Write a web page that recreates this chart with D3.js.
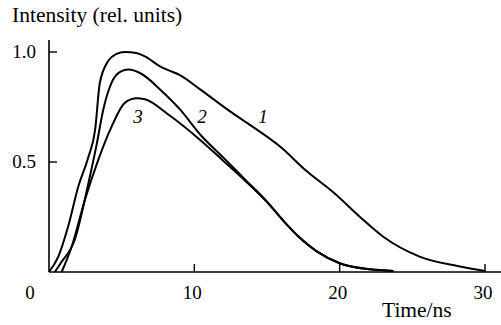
<!DOCTYPE html>
<html>
<head>
<meta charset="utf-8">
<script src="https://cdn.jsdelivr.net/npm/d3@7"></script>
<style>
	body { margin: 0; background: #fff; }
</style>
</head>
<body>
<div id="chart"></div>
<script>
// curve 1
const time1 = [0, 0.64, 1.33, 2.02, 2.7, 3.17, 3.5, 4.08, 4.6, 5.23, 6.0, 6.6, 7.64, 8.3, 9.0, 10.4, 12.46, 13.8, 15.9, 17.7, 19.6, 21.4, 23.0, 25.5, 28.1, 30.0];
const intensity1 = [0, 0.07, 0.21, 0.39, 0.52, 0.645, 0.86, 0.96, 0.99, 1.0, 0.995, 0.98, 0.935, 0.915, 0.895, 0.83, 0.73, 0.67, 0.57, 0.46, 0.36, 0.25, 0.16, 0.07, 0.027, 0.005];
// curve 2
const time2 = [0.4, 0.8, 1.79, 2.7, 3.28, 3.74, 4.3, 4.9, 5.46, 6.38, 7.64, 9.0, 10.4, 12.0, 13.5, 15.0, 16.1, 17.2, 18.4, 20.0, 22.1, 23.7];
const intensity2 = [0, 0.04, 0.15, 0.4, 0.58, 0.74, 0.86, 0.91, 0.92, 0.9, 0.83, 0.74, 0.625, 0.52, 0.42, 0.32, 0.235, 0.16, 0.095, 0.04, 0.012, 0.005];
// curve 3
const time3 = [0.87, 1.56, 2.48, 3.39, 4.3, 5.23, 6.03, 6.6, 8.33, 10.4, 12.0, 13.5, 15.0, 16.1, 17.2, 18.4, 20.0, 22.1, 23.7];
const intensity3 = [0, 0.115, 0.33, 0.51, 0.66, 0.77, 0.79, 0.785, 0.71, 0.6, 0.505, 0.415, 0.318, 0.235, 0.158, 0.095, 0.04, 0.012, 0.005];

const curveNames = ["1", "2", "3"];
// label anchor positions, in data units
const labelTime = [14.73, 10.53, 6.13];
const labelIntensity = [0.677, 0.677, 0.677];

const xTicks = [10, 20, 30];
const yTicks = [0.5, 1.0];

const width = 501, height = 325;
const serif = '"Liberation Serif", Tinos, "Times New Roman", serif';

const svg = d3.select("#chart")
	.append("svg")
	.attr("width", width)
	.attr("height", height)
	.style("font-family", serif);

const x = d3.scaleLinear().domain([0, 30]).range([49, 485]);
const y = d3.scaleLinear().domain([0, 1]).range([272, 52]);

// axes lines
svg.append("line")
	.attr("x1", x(0)).attr("x2", width)
	.attr("y1", y(0)).attr("y2", y(0))
	.attr("stroke", "#000").attr("stroke-width", 1.6);
svg.append("line")
	.attr("x1", x(0)).attr("x2", x(0))
	.attr("y1", 40).attr("y2", y(0))
	.attr("stroke", "#000").attr("stroke-width", 1.6);

// x ticks point up into the plot
svg.append("g")
	.selectAll("line")
	.data(xTicks)
	.join("line")
	.attr("x1", (d) => x(d)).attr("x2", (d) => x(d))
	.attr("y1", y(0)).attr("y2", y(0) - 8)
	.attr("stroke", "#000").attr("stroke-width", 1.4);

svg.append("g")
	.selectAll("text")
	.data(xTicks)
	.join("text")
	.attr("x", (d) => x(d) - 2)
	.attr("y", 299)
	.attr("text-anchor", "middle")
	.style("font-size", "19px")
	.text((d) => d);

// y ticks point right
svg.append("g")
	.selectAll("line")
	.data(yTicks)
	.join("line")
	.attr("x1", x(0)).attr("x2", x(0) + 8)
	.attr("y1", (d) => y(d)).attr("y2", (d) => y(d))
	.attr("stroke", "#000").attr("stroke-width", 1.4);

svg.append("g")
	.selectAll("text")
	.data(yTicks)
	.join("text")
	.attr("x", 36)
	.attr("y", (d) => y(d) + 6)
	.attr("text-anchor", "end")
	.style("font-size", "19px")
	.text((d) => d3.format(".1f")(d));

// shared origin label
svg.append("text")
	.attr("x", 30).attr("y", 299)
	.attr("text-anchor", "middle")
	.style("font-size", "19px")
	.text("0");

// axis titles
svg.append("text")
	.attr("x", 12).attr("y", 22)
	.style("font-size", "21.5px")
	.text("Intensity (rel. units)");
svg.append("text")
	.attr("x", 382).attr("y", 317)
	.style("font-size", "21.5px")
	.text("Time/ns");

// curves
const series = [
	d3.zip(time1, intensity1),
	d3.zip(time2, intensity2),
	d3.zip(time3, intensity3),
];

const line = d3.line()
	.x(([t]) => x(t))
	.y(([_, v]) => y(v))
	.curve(d3.curveMonotoneX);

svg.append("g")
	.attr("class", "curves")
	.selectAll("path")
	.data(series)
	.join("path")
	.attr("fill", "none")
	.attr("stroke", "#000")
	.attr("stroke-width", 2)
	.attr("stroke-linejoin", "round")
	.attr("d", line);

svg.append("g")
	.selectAll("text")
	.data(curveNames)
	.join("text")
	.attr("x", (d, i) => x(labelTime[i]))
	.attr("y", (d, i) => y(labelIntensity[i]))
	.attr("text-anchor", "middle")
	.style("font-size", "19px")
	.style("font-style", "italic")
	.text((d) => d);
</script>
</body>
</html>
